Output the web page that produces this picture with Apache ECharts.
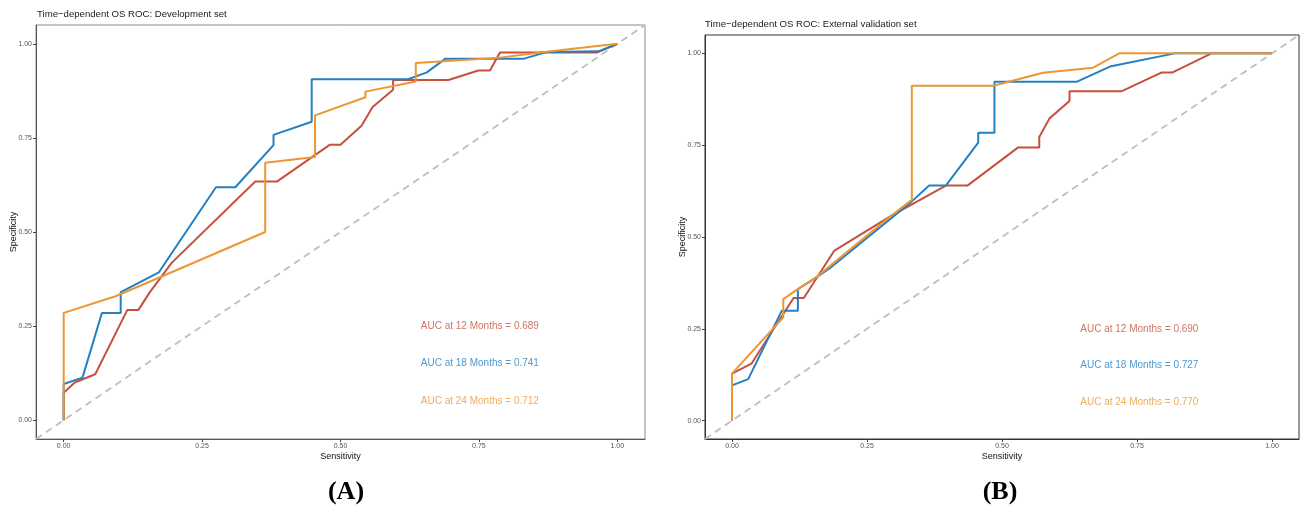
<!DOCTYPE html>
<html>
<head>
<meta charset="utf-8">
<script src="https://cdn.jsdelivr.net/npm/echarts@6/dist/echarts.min.js"></script>
<style>
html,body{margin:0;padding:0;background:#fff;}
#chart{width:1304px;height:505px;}
</style>
</head>
<body>
<div id="chart"></div>
<script>
// ---------- data ----------
const tickValues = [0, 0.25, 0.5, 0.75, 1];
const tickLabels = ['0.00', '0.25', '0.50', '0.75', '1.00'];
const panelTitles = ['Time\u2212dependent OS ROC: Development set', 'Time\u2212dependent OS ROC: External validation set'];
const panelTags = ['(A)', '(B)'];
const seriesNames = ['12 Months', '18 Months', '24 Months'];
const aucDev = ['0.689', '0.741', '0.712'];
const aucVal = ['0.690', '0.727', '0.770'];
const aucLabelPos = [[0.645, 0.25], [0.645, 0.15], [0.645, 0.05]];
const diagonal = [[-0.05, -0.05], [1.05, 1.05]];

// Development set ROC curves [sensitivity, specificity]
const devRed12 = [[0,0],[0,0.073],[0.02,0.1],[0.057,0.122],[0.115,0.293],[0.135,0.293],[0.156,0.341],[0.195,0.418],[0.346,0.634],[0.385,0.634],[0.481,0.732],[0.5,0.732],[0.538,0.782],[0.558,0.832],[0.595,0.878],[0.595,0.904],[0.695,0.904],[0.749,0.929],[0.77,0.929],[0.788,0.977],[0.963,0.977],[1,1]];
const devBlue18 = [[0,0],[0,0.096],[0.034,0.113],[0.069,0.285],[0.103,0.285],[0.103,0.34],[0.172,0.393],[0.275,0.619],[0.31,0.619],[0.379,0.731],[0.379,0.758],[0.448,0.793],[0.448,0.906],[0.622,0.906],[0.656,0.924],[0.689,0.96],[0.83,0.96],[0.872,0.978],[0.966,0.98],[1,1]];
const devOrange24 = [[0,0],[0,0.285],[0.095,0.33],[0.364,0.5],[0.364,0.684],[0.454,0.699],[0.454,0.81],[0.545,0.858],[0.545,0.873],[0.636,0.9],[0.636,0.949],[0.78,0.962],[0.88,0.98],[1,1]];

// External validation set ROC curves
const valRed12 = [[0,0],[0,0.128],[0.036,0.155],[0.114,0.334],[0.133,0.334],[0.189,0.462],[0.293,0.556],[0.396,0.64],[0.436,0.64],[0.53,0.744],[0.569,0.744],[0.569,0.772],[0.588,0.823],[0.625,0.87],[0.625,0.897],[0.722,0.897],[0.796,0.948],[0.816,0.948],[0.888,1],[1,1]];
const valBlue18 = [[0,0],[0,0.096],[0.03,0.113],[0.092,0.299],[0.122,0.299],[0.122,0.358],[0.154,0.388],[0.181,0.415],[0.333,0.597],[0.365,0.64],[0.396,0.64],[0.456,0.757],[0.456,0.784],[0.486,0.784],[0.486,0.923],[0.639,0.923],[0.7,0.964],[0.82,1],[1,1]];
const valOrange24 = [[0,0],[0,0.128],[0.095,0.281],[0.095,0.331],[0.122,0.358],[0.154,0.388],[0.293,0.556],[0.333,0.601],[0.333,0.912],[0.484,0.912],[0.576,0.947],[0.669,0.961],[0.717,1],[1,1]];

// ---------- styling ----------
const colors = ['#C6503D', '#2280C3', '#EC9634'];
const FONT = 'Liberation Sans, Arial, sans-serif';

const chart = echarts.init(document.getElementById('chart'), null, {renderer: 'canvas'});

function makeAxis(kind, gridIndex, name, lineColor) {
  return {
    type: 'value',
    gridIndex: gridIndex,
    min: -0.05,
    max: 1.05,
    name: name,
    nameLocation: 'middle',
    nameGap: kind === 'x' ? 13 : 18,
    nameMoveOverlap: false,
    nameTextStyle: {fontFamily: FONT, fontSize: 9, color: '#111'},
    splitLine: {show: false},
    axisLine: {show: true, onZero: false, lineStyle: {color: lineColor, width: 1}},
    axisTick: {show: true, length: 3, lineStyle: {color: '#444'}, customValues: tickValues},
    axisLabel: {
      show: true,
      customValues: tickValues,
      fontFamily: FONT,
      fontSize: 7,
      color: '#555',
      margin: 4,
      formatter: function (v) {
        const i = tickValues.findIndex(t => Math.abs(t - v) < 1e-9);
        return i >= 0 ? tickLabels[i] : '';
      }
    }
  };
}

function curve(name, data, color, xi, yi) {
  return {
    type: 'line', name: name, xAxisIndex: xi, yAxisIndex: yi,
    data: data, showSymbol: false, symbol: 'none',
    lineStyle: {color: color, width: 2}, itemStyle: {color: color},
    animation: false, silent: true, z: 3
  };
}

function aucSeries(aucs, xi, yi) {
  return {
    type: 'scatter', xAxisIndex: xi, yAxisIndex: yi,
    symbolSize: 0, silent: true, animation: false, z: 5,
    data: aucLabelPos.map((p, i) => ({
      value: p,
      label: {
        show: true, position: 'right', distance: 0,
        formatter: 'AUC at ' + seriesNames[i] + ' = ' + aucs[i],
        color: colors[i], fontFamily: FONT, fontSize: 10
      }
    }))
  };
}

function diagSeries(xi, yi) {
  return {
    type: 'line', xAxisIndex: xi, yAxisIndex: yi, data: diagonal,
    showSymbol: false, symbol: 'none', silent: true, animation: false, z: 2,
    lineStyle: {color: '#BEBEBE', width: 1.8, type: [7, 5]}
  };
}

const option = {
  backgroundColor: '#fff',
  animation: false,
  title: [
    {text: panelTitles[0], left: 37, top: 9, padding: 0, textStyle: {fontFamily: FONT, fontSize: 9.6, fontWeight: 'normal', color: '#1a1a1a'}},
    {text: panelTitles[1], left: 705, top: 19, padding: 0, textStyle: {fontFamily: FONT, fontSize: 9.6, fontWeight: 'normal', color: '#1a1a1a'}},
    {text: panelTags[0], left: 341, top: 474, textAlign: 'center', textStyle: {fontFamily: 'Liberation Serif, Times New Roman, serif', fontSize: 26, fontWeight: 'bold', color: '#000'}},
    {text: panelTags[1], left: 995, top: 474, textAlign: 'center', textStyle: {fontFamily: 'Liberation Serif, Times New Roman, serif', fontSize: 26, fontWeight: 'bold', color: '#000'}}
  ],
  grid: [
    {left: 36, top: 25, width: 609, height: 414, show: true, borderColor: '#8a8a8a', borderWidth: 1, backgroundColor: '#fff'},
    {left: 705, top: 35, width: 594, height: 404, show: true, borderColor: '#333', borderWidth: 1, backgroundColor: '#fff'}
  ],
  xAxis: [
    makeAxis('x', 0, 'Sensitivity', '#555'),
    makeAxis('x', 1, 'Sensitivity', '#333')
  ],
  yAxis: [
    makeAxis('y', 0, 'Specificity', '#555'),
    makeAxis('y', 1, 'Specificity', '#333')
  ],
  series: [
    diagSeries(0, 0),
    curve(seriesNames[0], devRed12, colors[0], 0, 0),
    curve(seriesNames[1], devBlue18, colors[1], 0, 0),
    curve(seriesNames[2], devOrange24, colors[2], 0, 0),
    aucSeries(aucDev, 0, 0),
    diagSeries(1, 1),
    curve(seriesNames[0], valRed12, colors[0], 1, 1),
    curve(seriesNames[1], valBlue18, colors[1], 1, 1),
    curve(seriesNames[2], valOrange24, colors[2], 1, 1),
    aucSeries(aucVal, 1, 1)
  ]
};
chart.setOption(option);
</script>
</body>
</html>
